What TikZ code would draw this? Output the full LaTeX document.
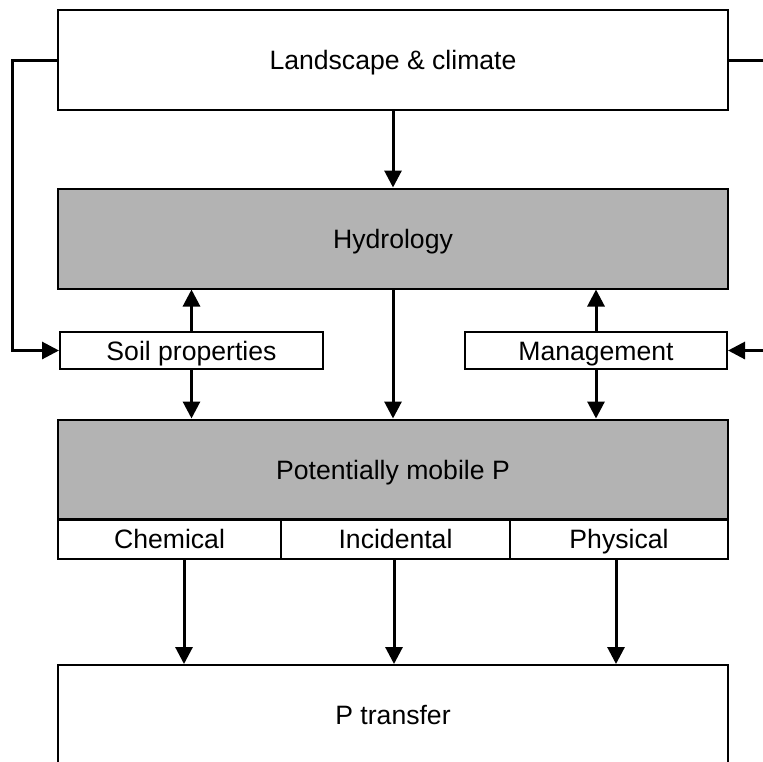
\documentclass[tikz,border=0pt]{standalone}
\usepackage{fontspec}
\setmainfont{Liberation Sans}
\usetikzlibrary{arrows.meta}
\definecolor{boxgray}{HTML}{B3B3B3}

\begin{document}
\begin{tikzpicture}[x=0.5pt,y=-0.5pt,>={Triangle[length=8.5pt,width=8.5pt]},
  box/.style={draw,line width=1pt,inner sep=0pt,text height=9.5pt,text depth=0pt,font=\fontsize{13.3}{15}\selectfont},
  bigbox/.style={box,minimum width=335pt,minimum height=50pt},
  smallbox/.style={box,minimum height=18.5pt},
  link/.style={line width=1.5pt}]
\clip (0,0) rectangle (763,761);
\node[bigbox] (land) at (393,60) {Landscape \& climate};
\node[bigbox,fill=boxgray] (hydro) at (393,238.5) {Hydrology};
\node[smallbox,minimum width=131.5pt] (soil) at (191.5,350.5) {Soil properties};
\node[smallbox,minimum width=131pt] (mgmt) at (596,350.5) {Management};
\node[bigbox,fill=boxgray] (mobile) at (393,469.5) {Potentially mobile P};
\foreach \nm/\cx/\w/\txt in {chem/169.5/111.5/Chemical,inc/395.5/114.5/Incidental,phys/619/109/Physical}{
  \node[smallbox,minimum height=20pt,minimum width=\w pt] (\nm) at (\cx,539) {\txt};
}
\node[bigbox] (ptrans) at (393,715) {P transfer};
% feedback lines on both sides
\coordinate (lbend) at (12,60);
\coordinate (redge) at (763,60);
\coordinate (redge2) at (763,350.5);
\draw[link,->] (land.west) -- (lbend) |- (soil.west);
\draw[link] (land.east) -- (redge);
\draw[link,->] (redge2) -- (mgmt.east);
\draw[link,->] (land) -- (hydro);
\draw[link,->] (hydro) -- (mobile);
\foreach \nm in {soil,mgmt}{
  \draw[link,->] (\nm.north) -- (\nm.north |- hydro.south);
  \draw[link,->] (\nm.south) -- (\nm.south |- mobile.north);
}
\foreach \nm/\ax in {chem/184,inc/394,phys/616}{
  \coordinate (ax) at (\ax,0);
  \draw[link,->] (\nm.south -| ax) -- (ptrans.north -| ax);
}
\end{tikzpicture}
\end{document}
